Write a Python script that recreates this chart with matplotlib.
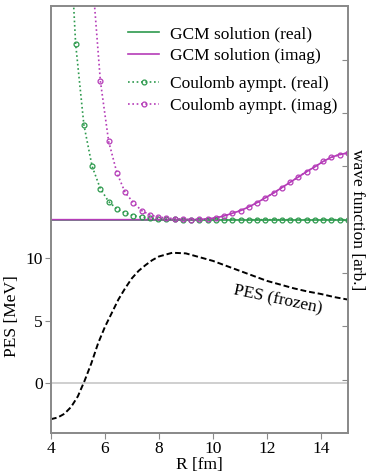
import numpy as np
import matplotlib
matplotlib.use('Agg')
import matplotlib.pyplot as plt

plt.rcParams['font.family'] = ['Liberation Serif', 'DejaVu Serif']
plt.rcParams['font.size'] = 12.5

# PES (frozen), left axis [MeV]
r_pes = [4.0, 4.25, 4.5, 4.75, 5.0, 5.25, 5.5, 5.75, 6.0, 6.25, 6.5, 6.75, 7.0,
         7.25, 7.5, 7.75, 8.0, 8.5, 9.0, 9.5, 10.0, 10.5, 11.0, 11.5, 12.0,
         12.5, 13.0, 13.5, 14.0, 14.5, 15.0]
pes = [-2.88, -2.75, -2.45, -1.9, -1.05, 0.2, 1.6, 3.2, 4.5, 5.6, 6.7, 7.6, 8.4,
       9.0, 9.45, 9.85, 10.15, 10.45, 10.4, 10.1, 9.8, 9.4, 9.0, 8.6, 8.2,
       7.9, 7.6, 7.35, 7.15, 6.9, 6.7]

# wave functions, right axis [arb.], 37 points on R = 4..15
r_wf = np.linspace(4, 15, 37)
coul_real = [23, 12, 6.3, 3.3, 1.78, 1.0, 0.58, 0.34, 0.2, 0.125, 0.075, 0.05,
             0.03, 0.02, 0.01, 0.005, 0.003, 0, 0, 0, 0, 0, 0, 0, 0, 0, 0, 0, 0,
             0, 0, 0, 0, 0, 0, 0, 0]
coul_imag = [70, 40, 24, 14, 8.0, 4.6, 2.6, 1.47, 0.88, 0.51, 0.32, 0.17, 0.09,
             0.05, 0.03, 0.02, 0.01, 0.0, 0.005, 0.015, 0.035, 0.07, 0.12, 0.17,
             0.24, 0.32, 0.41, 0.5, 0.6, 0.7, 0.8, 0.9, 0.99, 1.09, 1.17, 1.22, 1.25]
gcm_real = [0] * 37
gcm_imag = [0, 0, 0, 0, 0, 0, 0, 0, 0, 0, 0, 0, 0, 0, 0, 0, 0, 0.0, 0.005,
            0.015, 0.035, 0.07, 0.12, 0.17, 0.24, 0.32, 0.41, 0.5, 0.6, 0.7, 0.8,
            0.9, 0.99, 1.09, 1.17, 1.22, 1.25]

green = '#2e9a4e'
purple = '#b53cb8'
spine_c = '#8a8a8a'

fig = plt.figure(figsize=(3.74, 4.76), dpi=100)
ax = fig.add_axes([0.136, 0.09, 0.794, 0.897])
ax2 = ax.twinx()

# left: PES
ax.axhline(0, color='#cccccc', lw=1.3, zorder=1)
ax.plot(r_pes, pes, color='black', ls=(0, (3, 1.5)), lw=1.4, zorder=2)
ax.set_xlim(4, 15)
ax.set_ylim(-4, 30.2)
ax.set_yticks([0, 5, 10])
ax.set_xticks([4, 6, 8, 10, 12, 14])
ax.set_xlabel('R [fm]', labelpad=0)
ax.set_ylabel('PES [MeV]')
ax.yaxis.set_label_coords(-0.105, 0.274)
ax.text(12.4, 6.7, 'PES (frozen)', rotation=-12, ha='center', va='center')

# right: wave functions
l1, = ax2.plot(r_wf, gcm_real, color=green, lw=1.2, label='GCM solution (real)')
l2, = ax2.plot(r_wf, gcm_imag, color=purple, lw=1.2, label='GCM solution (imag)')
l3, = ax2.plot(r_wf, coul_real, color=green, lw=1.2, ls=(0, (1.0, 1.6)),
               marker='o', ms=3.5, mfc='none', mew=0.9, label='Coulomb aympt. (real)')
l4, = ax2.plot(r_wf, coul_imag, color=purple, lw=1.2, ls=(0, (1.0, 1.6)),
               marker='o', ms=3.5, mfc='none', mew=0.9, label='Coulomb aympt. (imag)')
ax2.set_ylim(-4, 4)
ax2.set_yticks([-3, -2, -1, 0, 1, 2, 3])
ax2.set_yticklabels([])
ax2.tick_params(axis='y', direction='in', length=4, color=spine_c)
ax2.set_ylabel('wave function [arb.]', rotation=270, labelpad=9)

leg1 = ax2.legend(handles=[l1, l2], loc='upper left', bbox_to_anchor=(0.26, 0.953),
                  frameon=False, handlelength=1.8, handletextpad=0.6,
                  labelspacing=0.3, borderaxespad=0, borderpad=0)
ax2.add_artist(leg1)
ax2.legend(handles=[l3, l4], loc='upper left', bbox_to_anchor=(0.26, 0.836),
           frameon=False, handlelength=1.8, handletextpad=0.6, numpoints=1,
           labelspacing=0.3, borderaxespad=0, borderpad=0)

for a in (ax, ax2):
    for s in a.spines.values():
        s.set_color(spine_c)
        s.set_linewidth(1.3)
ax.tick_params(axis='both', direction='out', length=4, color=spine_c, pad=2)

fig.savefig('out.png', dpi=100)
